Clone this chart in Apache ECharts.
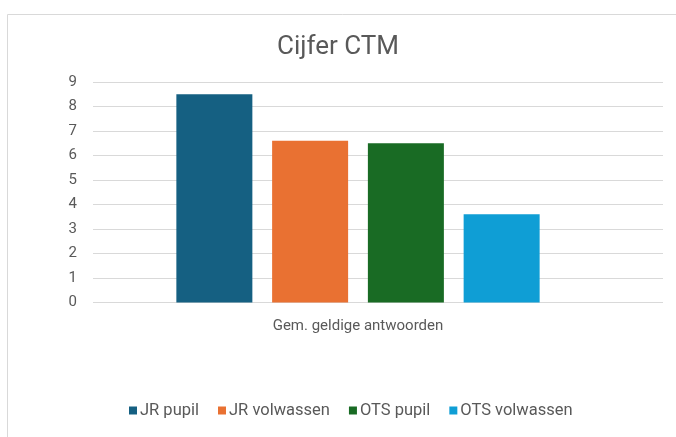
<!DOCTYPE html>
<html><head><meta charset="utf-8">
<script src="https://cdn.jsdelivr.net/npm/echarts@6/dist/echarts.min.js"></script>
<style>html,body{margin:0;padding:0;background:#fff}#c{width:676px;height:437px}</style>
</head><body><div id="c"></div>
<script>
var titleText = "Cijfer CTM";
var categories = ["Gem. geldige antwoorden"];
var seriesNames = ["JR pupil", "JR volwassen", "OTS pupil", "OTS volwassen"];
var jrPupil = [8.5];
var jrVolwassen = [6.6];
var otsPupil = [6.5];
var otsVolwassen = [3.6];
var yTicks = [0, 1, 2, 3, 4, 5, 6, 7, 8, 9];
var colors = ["#156082", "#E97132", "#196B24", "#0F9ED5"];
var seriesValues = [jrPupil, jrVolwassen, otsPupil, otsVolwassen];

var font = "'Roboto', sans-serif";
var chart = echarts.init(document.getElementById('c'));
chart.setOption({
  animation: false,
  color: colors,
  graphic: [{type:'rect', shape:{x:7.5,y:14.5,width:700,height:440}, style:{fill:'none', stroke:'#d9d9d9', lineWidth:1}, silent:true}],
  title: {text: titleText, left: 'center', top: 29, textStyle:{fontFamily: font, fontSize: 26, fontWeight:'normal', color:'#595959'}},
  legend: {data: seriesNames, bottom: 13, left: 124, itemWidth: 8, itemHeight: 8, itemGap: 19, icon: 'rect',
    textStyle:{fontFamily: font, fontSize: 16.5, color:'#595959', padding:[0,0,0,-2]}},
  grid: [
    {left: 93, right: 13, top: 82, height: 220.5, containLabel: false},
    {left: 93, width: 530, top: 82, height: 220.5, containLabel: false}
  ],
  xAxis: [
    {gridIndex: 0, type: 'category', data: categories, show: false},
    {gridIndex: 1, type: 'category', data: categories, axisLine:{show:false}, axisTick:{show:false},
      axisLabel:{fontFamily: font, fontSize: 15, color:'#595959', margin: 16}}
  ],
  yAxis: [
    {gridIndex: 0, type: 'value', min: yTicks[0], max: yTicks[yTicks.length-1], interval: 1,
      axisLine:{show:false}, axisTick:{show:false},
      axisLabel:{fontFamily: font, fontSize: 15, color:'#595959', margin: 16},
      splitLine:{lineStyle:{color:'#d9d9d9', width:1}}},
    {gridIndex: 1, type: 'value', min: yTicks[0], max: yTicks[yTicks.length-1], interval: 1, show: false,
      splitLine:{show:false}}
  ],
  series: seriesNames.map(function(n, i){
    return {name: n, type: 'bar', xAxisIndex: 1, yAxisIndex: 1, data: seriesValues[i], barWidth: 76, barGap: '26%'};
  })
});
</script></body></html>
